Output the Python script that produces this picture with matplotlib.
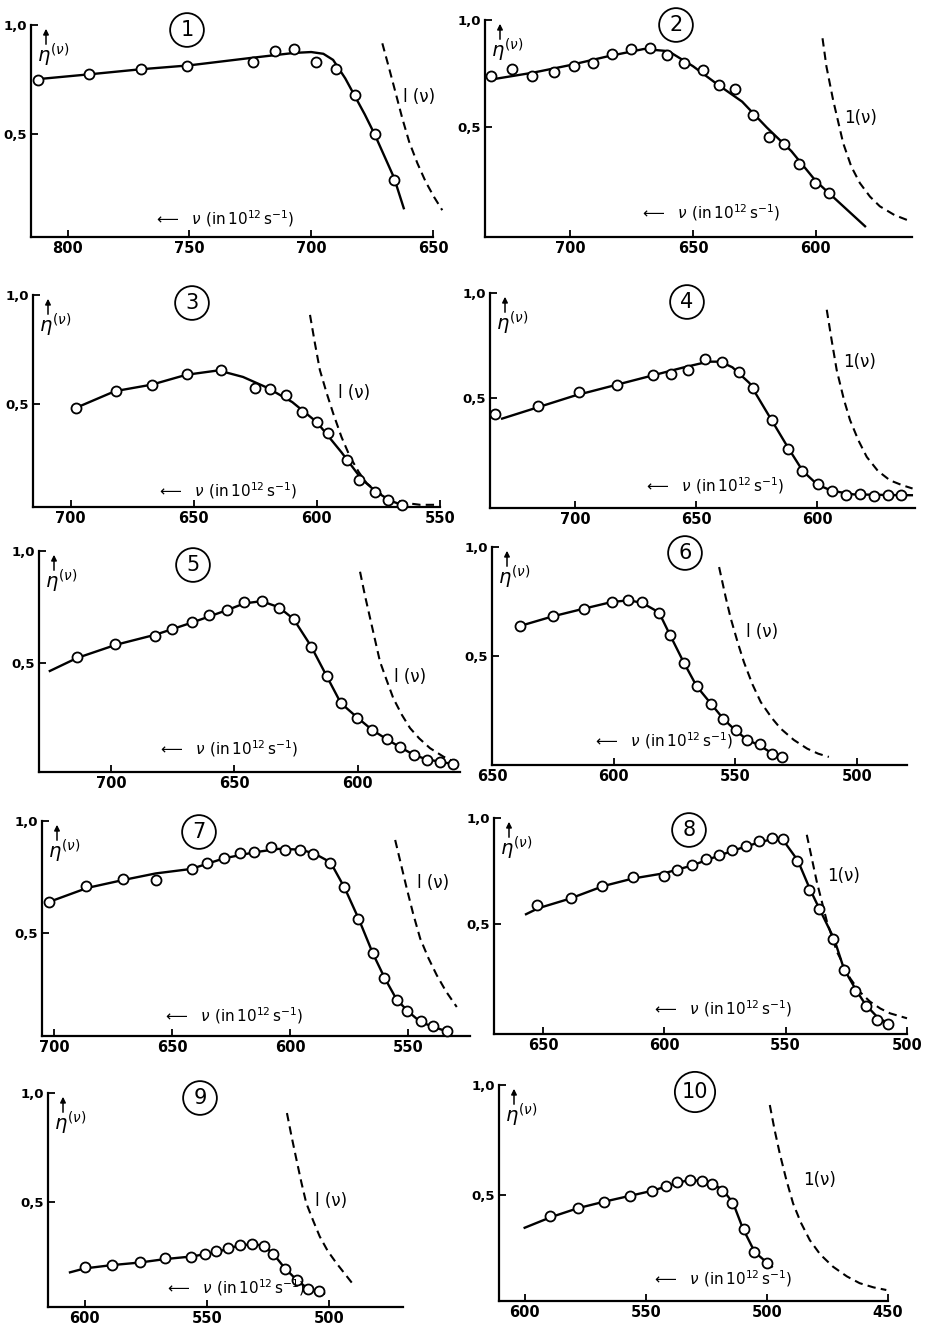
import matplotlib
matplotlib.use('Agg')
import matplotlib.pyplot as plt

plt.rcParams['font.family'] = ['Liberation Sans Narrow', 'DejaVu Sans']
plt.rcParams['mathtext.fontset'] = 'dejavusans'

# ---- data (nu in 10^12 s^-1, eta) ----
p1_nu = [812, 791, 770, 751, 724, 715, 707, 698, 690, 682, 674, 666]
p1_eta = [0.75, 0.775, 0.80, 0.81, 0.83, 0.88, 0.89, 0.83, 0.80, 0.68, 0.50, 0.29]
p1_fit_nu = [812, 790, 770, 750, 724, 707, 700, 695, 691, 686, 678, 674, 666, 662]
p1_fit_eta = [0.752, 0.775, 0.797, 0.815, 0.85, 0.872, 0.876, 0.868, 0.84, 0.755, 0.59, 0.50, 0.30, 0.16]
p1_lum_nu = [670.8, 668.0, 665.3, 662.6, 659.8, 656.4, 653.0, 649.6, 646.2]
p1_lum_eta = [0.916, 0.801, 0.687, 0.572, 0.465, 0.366, 0.281, 0.212, 0.151]

p2_nu = [732.2, 723.5, 715.3, 706.5, 698.3, 690.5, 682.8, 675.3, 667.5, 660.4,
         653.5, 645.9, 639.3, 632.8, 625.7, 619.2, 613.0, 606.8, 600.3, 594.8]
p2_eta = [0.740, 0.771, 0.741, 0.757, 0.786, 0.799, 0.842, 0.865, 0.868, 0.837,
          0.801, 0.766, 0.698, 0.681, 0.557, 0.455, 0.422, 0.330, 0.240, 0.195]
p2_fit_nu = [731, 715, 700, 685, 670, 660, 650, 640, 630, 620, 610, 600, 590, 580]
p2_fit_eta = [0.725, 0.755, 0.79, 0.83, 0.865, 0.855, 0.785, 0.70, 0.62, 0.50, 0.39, 0.25, 0.145, 0.04]
p2_lum_nu = [597.3, 595.7, 593, 588.9, 585.6, 582.1, 578, 574, 568, 561.5]
p2_lum_eta = [0.915, 0.783, 0.628, 0.427, 0.318, 0.241, 0.178, 0.133, 0.092, 0.063]

p3_nu = [697.8, 681.7, 667.1, 652.6, 639.1, 625.2, 619.1, 612.7, 606.2, 600.1,
         595.6, 587.7, 582.8, 576.4, 571.3, 565.6]
p3_eta = [0.483, 0.562, 0.587, 0.637, 0.657, 0.575, 0.570, 0.543, 0.464, 0.418,
          0.368, 0.244, 0.155, 0.099, 0.061, 0.040]
p3_fit_nu = [698, 682, 667, 653, 640, 630, 620, 610, 600, 590, 582, 576, 570, 565.5]
p3_fit_eta = [0.483, 0.56, 0.59, 0.635, 0.655, 0.625, 0.575, 0.51, 0.418, 0.28, 0.16, 0.10, 0.058, 0.04]
p3_lum_nu = [602.8, 600.8, 598.8, 596, 593.4, 590, 586.6, 583, 579.8, 575, 569, 563, 558, 551.3]
p3_lum_eta = [0.909, 0.779, 0.657, 0.55, 0.459, 0.35, 0.261, 0.19, 0.139, 0.095, 0.063, 0.047, 0.04, 0.04]

p4_nu = [733.0, 715.4, 698.3, 682.8, 667.7, 660.3, 653.5, 646.2, 639.2, 632.3, 626.4,
         618.8, 612.0, 606.2, 599.6, 594.1, 588.2, 582.4, 576.5, 571.0, 565.5]
p4_eta = [0.422, 0.460, 0.526, 0.562, 0.609, 0.612, 0.632, 0.685, 0.671, 0.621, 0.545,
          0.391, 0.254, 0.149, 0.086, 0.056, 0.035, 0.038, 0.032, 0.037, 0.037]
p4_fit_nu = [730, 715, 700, 685, 670, 655, 645, 640, 635, 628, 620, 612, 606, 600, 594, 585, 570, 561]
p4_fit_eta = [0.40, 0.455, 0.51, 0.555, 0.60, 0.645, 0.672, 0.672, 0.645, 0.57, 0.415, 0.26,
              0.15, 0.085, 0.055, 0.038, 0.035, 0.034]
p4_lum_nu = [596.1, 594.1, 592, 589, 586.5, 583, 579.6, 575, 570, 565, 560.7]
p4_lum_eta = [0.92, 0.776, 0.632, 0.49, 0.393, 0.295, 0.217, 0.15, 0.105, 0.082, 0.066]

p5_nu = [714.1, 698.4, 682.4, 675.2, 667.2, 660.3, 653.1, 646.2, 639.0, 631.9, 625.9,
         619.1, 612.6, 606.8, 600.2, 594.3, 588.2, 582.7, 577.1, 572.0, 566.5, 561.1]
p5_eta = [0.525, 0.582, 0.620, 0.652, 0.680, 0.712, 0.734, 0.770, 0.777, 0.746, 0.695,
          0.571, 0.439, 0.318, 0.251, 0.197, 0.155, 0.122, 0.083, 0.064, 0.055, 0.045]
p5_fit_nu = [725, 714, 698, 682, 667, 653, 646, 639, 632, 626, 619, 612.6, 606.8, 600,
             594, 588, 583, 577, 572, 566, 560]
p5_fit_eta = [0.462, 0.52, 0.58, 0.625, 0.68, 0.735, 0.765, 0.775, 0.748, 0.695, 0.575,
              0.44, 0.318, 0.252, 0.197, 0.155, 0.122, 0.085, 0.066, 0.054, 0.042]
p5_lum_nu = [599, 597, 594.9, 590.9, 588, 585.5, 582, 578.7, 575, 570.6, 565, 559.6]
p5_lum_eta = [0.907, 0.80, 0.698, 0.504, 0.415, 0.34, 0.265, 0.206, 0.16, 0.116, 0.077, 0.049]

p6_nu = [638.4, 625.0, 612.3, 600.7, 594.0, 588.5, 581.4, 576.8, 571.2, 565.9, 560.1,
         554.9, 549.9, 545.4, 539.9, 535.1, 530.7]
p6_eta = [0.638, 0.682, 0.717, 0.748, 0.756, 0.748, 0.699, 0.595, 0.470, 0.361, 0.282,
          0.211, 0.159, 0.113, 0.095, 0.049, 0.037]
p6_fit_nu = [638.4, 625, 612.3, 600.7, 594, 588.5, 581.4, 576.8, 571.2, 565.9, 560.1,
             554.9, 549.9, 545.4, 539.9, 535.1, 530.7]
p6_fit_eta = [0.638, 0.682, 0.717, 0.748, 0.755, 0.745, 0.70, 0.595, 0.47, 0.361, 0.282,
              0.211, 0.158, 0.118, 0.088, 0.055, 0.037]
p6_lum_nu = [556.7, 554, 551.9, 549, 546.5, 543, 539.6, 535, 531.4, 526, 520.5, 516, 511.6]
p6_lum_eta = [0.908, 0.77, 0.672, 0.56, 0.472, 0.37, 0.289, 0.215, 0.167, 0.115, 0.075, 0.052, 0.037]

p7_nu = [702.4, 686.5, 670.9, 656.8, 641.6, 635.1, 627.9, 621.5, 615.3, 608.3, 602.2, 595.9,
         590.2, 583.4, 577.1, 571.4, 565.2, 560.2, 554.9, 550.4, 544.8, 539.4, 533.7]
p7_eta = [0.638, 0.708, 0.741, 0.734, 0.783, 0.812, 0.833, 0.857, 0.860, 0.885, 0.870, 0.870,
          0.851, 0.810, 0.703, 0.562, 0.406, 0.296, 0.199, 0.148, 0.102, 0.081, 0.060]
p7_fit_nu = [702, 686, 671, 657, 642, 628, 615, 605, 596, 590, 583, 577, 571, 565, 560,
             555, 550, 545, 539, 534]
p7_fit_eta = [0.638, 0.70, 0.735, 0.765, 0.785, 0.833, 0.86, 0.875, 0.872, 0.855, 0.815,
              0.70, 0.56, 0.405, 0.295, 0.20, 0.145, 0.10, 0.075, 0.058]
p7_lum_nu = [555.6, 553, 550.7, 548, 545, 541.5, 538, 534, 529.5]
p7_lum_eta = [0.915, 0.80, 0.698, 0.585, 0.473, 0.385, 0.309, 0.235, 0.166]

p8_nu = [652.3, 638.6, 625.5, 612.9, 600.1, 594.8, 588.6, 582.9, 577.4, 572.0, 566.5, 561.0,
         555.7, 551.2, 545.2, 540.2, 536.1, 530.3, 525.8, 521.4, 516.9, 512.4, 507.9]
p8_eta = [0.591, 0.623, 0.682, 0.720, 0.729, 0.753, 0.778, 0.807, 0.825, 0.847, 0.868, 0.893,
          0.908, 0.899, 0.799, 0.663, 0.571, 0.429, 0.286, 0.185, 0.115, 0.049, 0.031]
p8_fit_nu = [657, 652, 639, 625, 613, 600, 589, 577, 566, 556, 551, 545, 540, 536, 530,
             526, 521, 517, 512, 508]
p8_fit_eta = [0.547, 0.575, 0.62, 0.68, 0.715, 0.74, 0.775, 0.825, 0.868, 0.90, 0.895, 0.80,
              0.665, 0.57, 0.43, 0.29, 0.19, 0.12, 0.06, 0.035]
p8_lum_nu = [541.3, 537.2, 533, 528.9, 523.4, 519.5, 515.2, 511, 506.9, 500]
p8_lum_eta = [0.921, 0.701, 0.512, 0.371, 0.245, 0.182, 0.135, 0.103, 0.08, 0.057]

p9_nu = [600.0, 588.8, 577.5, 567.3, 556.3, 550.9, 546.1, 541.3, 536.6, 531.5, 526.7,
         522.9, 517.8, 513.1, 508.6, 504.2]
p9_eta = [0.200, 0.212, 0.225, 0.241, 0.248, 0.261, 0.273, 0.289, 0.304, 0.306, 0.300,
          0.263, 0.193, 0.140, 0.101, 0.093]
p9_fit_nu = [606, 600, 589, 577.5, 567, 556, 546, 537, 531.5, 527, 523, 518, 513, 508.6, 502]
p9_fit_eta = [0.177, 0.195, 0.21, 0.222, 0.238, 0.25, 0.27, 0.30, 0.306, 0.30, 0.265, 0.195,
              0.14, 0.102, 0.08]
p9_lum_nu = [517.2, 515.3, 513.3, 511.3, 509.3, 506.5, 503.8, 500.5, 497, 493, 489.5]
p9_lum_eta = [0.908, 0.80, 0.694, 0.59, 0.495, 0.415, 0.342, 0.275, 0.22, 0.163, 0.113]

p10_nu = [589.4, 578.0, 567.4, 556.6, 547.3, 541.8, 537.1, 531.9, 526.6, 522.5, 518.4,
          514.2, 509.6, 505.3, 500.1]
p10_eta = [0.405, 0.442, 0.470, 0.494, 0.518, 0.542, 0.558, 0.570, 0.562, 0.549, 0.520,
           0.464, 0.345, 0.241, 0.192]
p10_fit_nu = [600, 589, 578, 567, 557, 547, 537, 532, 526, 522, 518, 514, 510, 505, 498]
p10_fit_eta = [0.351, 0.40, 0.44, 0.47, 0.495, 0.52, 0.555, 0.568, 0.563, 0.55, 0.52, 0.465,
               0.35, 0.24, 0.174]
p10_lum_nu = [498.8, 496.8, 494.7, 492, 489.2, 486, 482.3, 478, 472.7, 467, 461.7, 456, 450.7]
p10_lum_eta = [0.909, 0.795, 0.689, 0.57, 0.462, 0.375, 0.295, 0.23, 0.174, 0.13, 0.099, 0.08, 0.068]

p1_ticks = [800, 750, 700, 650]
p2_ticks = [700, 650, 600]
p3_ticks = [700, 650, 600, 550]
p4_ticks = [700, 650, 600]
p5_ticks = [700, 650, 600]
p6_ticks = [650, 600, 550, 500]
p7_ticks = [700, 650, 600, 550]
p8_ticks = [650, 600, 550, 500]
p9_ticks = [600, 550, 500]
p10_ticks = [600, 550, 500, 450]
lum_labels = ['l (ν)', '1(ν)', 'l (ν)', '1(ν)', 'l (ν)', 'l (ν)', 'l (ν)', '1(ν)', 'l (ν)', '1(ν)']

# ---- layout (pixels): left, top, right, bottom ; xlim ; ybottom ; circle ; xlabel ; l-label ----
layout = [
    dict(box=(31, 25, 433, 237), xl=(815, 650), yb=0.028, circ=(187, 30), xlab=(0.48, 8), lum=(655.7, 0.67)),
    dict(box=(485, 20, 912, 237), xl=(734.6, 560.9), yb=-0.01, circ=(676, 25), xlab=(0.527, 14), lum=(582, 0.545)),
    dict(box=(33, 295, 440, 507), xl=(715.3, 550), yb=0.03, circ=(192, 303), xlab=(0.477, 6), lum=(585, 0.55)),
    dict(box=(490, 293, 915, 508), xl=(735, 559.7), yb=-0.027, circ=(687, 302), xlab=(0.527, 12), lum=(582.4, 0.672)),
    dict(box=(39, 551, 460, 772), xl=(729.4, 558.4), yb=0.009, circ=(193, 565), xlab=(0.449, 13), lum=(578.7, 0.437)),
    dict(box=(492, 547, 907, 765), xl=(649.6, 479.5), yb=0.0, circ=(685, 553), xlab=(0.412, 14), lum=(538.9, 0.61)),
    dict(box=(42, 821, 470, 1036), xl=(705.2, 523.9), yb=0.036, circ=(199, 832), xlab=(0.447, 10), lum=(539.4, 0.72)),
    dict(box=(494, 818, 907, 1034), xl=(670.2, 500), yb=-0.017, circ=(689, 830), xlab=(0.553, 15), lum=(526.2, 0.725)),
    dict(box=(48, 1093, 403, 1307), xl=(615, 469.7), yb=0.018, circ=(200, 1098), xlab=(0.526, 9), lum=(499, 0.503)),
    dict(box=(499, 1085, 888, 1301), xl=(610.6, 450), yb=0.018, circ=(695, 1092), xlab=(0.573, 12), lum=(478.2, 0.568)),
]

points = [(p1_nu, p1_eta), (p2_nu, p2_eta), (p3_nu, p3_eta), (p4_nu, p4_eta), (p5_nu, p5_eta),
          (p6_nu, p6_eta), (p7_nu, p7_eta), (p8_nu, p8_eta), (p9_nu, p9_eta), (p10_nu, p10_eta)]
fits = [(p1_fit_nu, p1_fit_eta), (p2_fit_nu, p2_fit_eta), (p3_fit_nu, p3_fit_eta),
        (p4_fit_nu, p4_fit_eta), (p5_fit_nu, p5_fit_eta), (p6_fit_nu, p6_fit_eta),
        (p7_fit_nu, p7_fit_eta), (p8_fit_nu, p8_fit_eta), (p9_fit_nu, p9_fit_eta),
        (p10_fit_nu, p10_fit_eta)]
lums = [(p1_lum_nu, p1_lum_eta), (p2_lum_nu, p2_lum_eta), (p3_lum_nu, p3_lum_eta),
        (p4_lum_nu, p4_lum_eta), (p5_lum_nu, p5_lum_eta), (p6_lum_nu, p6_lum_eta),
        (p7_lum_nu, p7_lum_eta), (p8_lum_nu, p8_lum_eta), (p9_lum_nu, p9_lum_eta),
        (p10_lum_nu, p10_lum_eta)]
ticks = [p1_ticks, p2_ticks, p3_ticks, p4_ticks, p5_ticks, p6_ticks, p7_ticks, p8_ticks,
         p9_ticks, p10_ticks]

W, H = 927, 1330
fig = plt.figure(figsize=(W / 100, H / 100), dpi=100)
fig.patch.set_facecolor('white')

for i in range(10):
    lay = layout[i]
    l, t, r, b = lay['box']
    wpx, hpx = r - l, b - t
    ax = fig.add_axes([l / W, 1 - b / H, wpx / W, hpx / H])
    ax.set_facecolor('none')
    ax.set_xlim(*lay['xl'])
    ax.set_ylim(lay['yb'], 1.0)
    for s in ['top', 'right']:
        ax.spines[s].set_visible(False)
    for s in ['left', 'bottom']:
        ax.spines[s].set_linewidth(1.6)
    ax.set_xticks(ticks[i])
    ax.set_xticklabels([str(v) for v in ticks[i]], fontsize=10.5, fontweight='bold')
    ax.set_yticks([0.5, 1.0])
    ax.set_yticklabels(['0,5', '1,0'], fontsize=9.5, fontweight='bold')
    ax.tick_params(direction='in', length=5, width=1.3, pad=3)

    fx, fy = fits[i]
    ax.plot(fx, fy, color='black', lw=1.7, zorder=2, clip_on=False)
    px, py = points[i]
    ax.plot(px, py, 'o', ms=7.2, mfc='white', mec='black', mew=1.3, zorder=3, clip_on=False)
    lx, ly = lums[i]
    ax.plot(lx, ly, color='black', lw=1.5, ls=(0, (4, 2.5)), zorder=2, clip_on=False)

    ax.text(lay['lum'][0], lay['lum'][1], lum_labels[i], fontsize=12, ha='center', va='center')

    # eta label with upward arrow
    ax.annotate(r'$\eta^{(\nu)}$', xy=(0, 1), xycoords='axes fraction', xytext=(6, -30),
                textcoords='offset pixels', fontsize=14, ha='left', va='center')
    ax.annotate('', xy=(15 / wpx, 1 - 1 / hpx), xycoords='axes fraction',
                xytext=(15 / wpx, 1 - 22 / hpx), textcoords='axes fraction',
                arrowprops=dict(arrowstyle='-|>', color='black', lw=1.1, mutation_scale=8))

    ax.annotate(r'$\longleftarrow\ \ \nu\ (\mathrm{in}\,10^{12}\,\mathrm{s}^{-1})$',
                xy=(lay['xlab'][0], 0), xycoords='axes fraction',
                xytext=(0, lay['xlab'][1]), textcoords='offset pixels',
                fontsize=11, ha='center', va='bottom')

    cx, cy = lay['circ']
    fig.text(cx / W, 1 - cy / H, str(i + 1), fontsize=15, ha='center', va='center',
             bbox=dict(boxstyle='circle,pad=0.33', fc='none', ec='black', lw=1.3))

fig.savefig('out.png', dpi=100, facecolor='white')
